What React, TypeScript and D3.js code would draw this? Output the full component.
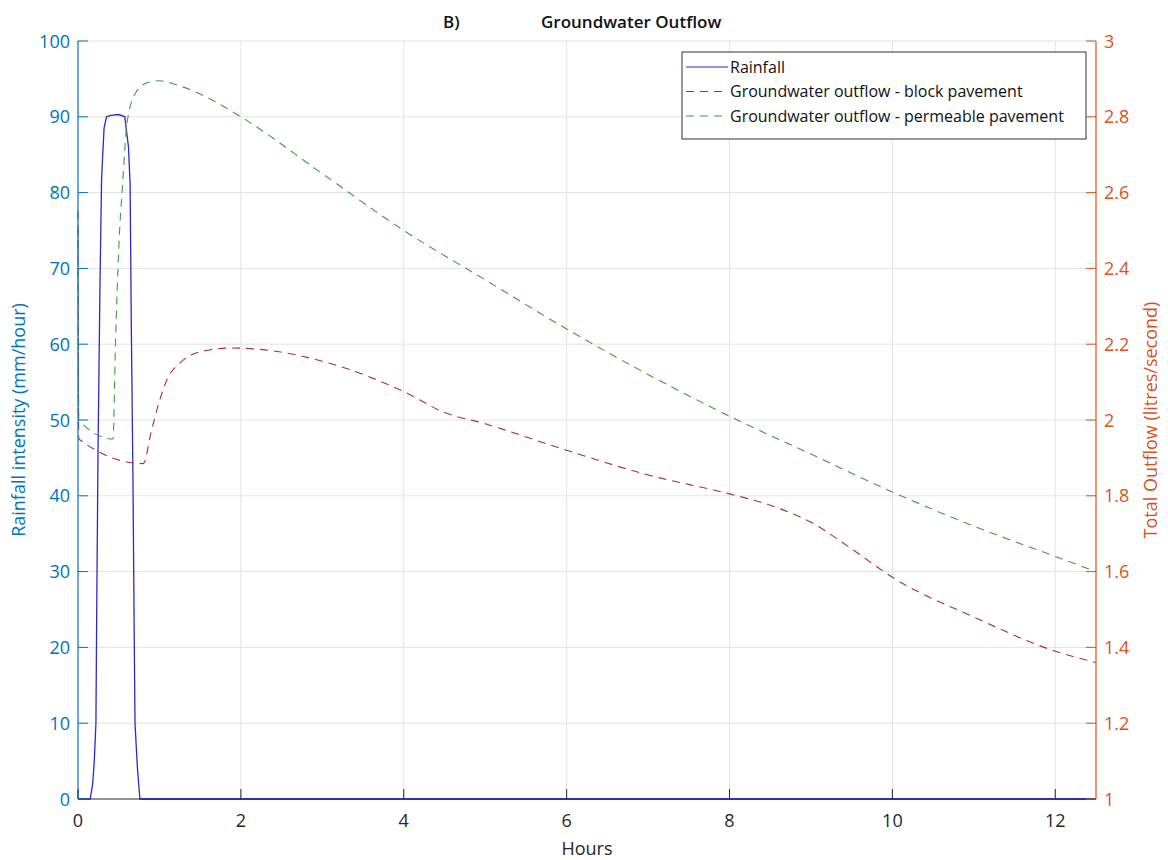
import React, { useEffect, useRef } from 'react';
import * as d3 from 'd3';

// rainfall hyetograph (hours, mm/hour)
const rainHours = [0, 0.15, 0.18, 0.2, 0.22, 0.23, 0.245, 0.27, 0.29, 0.32, 0.35, 0.4, 0.5, 0.575, 0.62, 0.64, 0.655, 0.675, 0.69, 0.7, 0.73, 0.76, 12.5];
const rainValues = [0, 0, 2, 5, 10, 25, 45, 68, 82, 88.5, 90, 90.2, 90.3, 90, 86, 81, 62, 42, 22, 10, 4, 0, 0];

// groundwater outflow - block pavement (hours, litres/second)
const blockHours = [0, 0.01, 0.8, 0.9, 1.0, 1.1, 1.25, 1.5, 1.9, 2.3, 3, 4, 4.5, 5, 6, 7, 8, 8.5, 9, 9.5, 10, 11, 12, 12.5];
const blockValues = [2.55, 1.95, 1.885, 1.97, 2.05, 2.11, 2.15, 2.18, 2.19, 2.185, 2.155, 2.075, 2.02, 1.99, 1.92, 1.855, 1.805, 1.775, 1.73, 1.66, 1.585, 1.48, 1.39, 1.36];

// groundwater outflow - permeable pavement (hours, litres/second)
const permHours = [0, 0.01, 0.43, 0.46, 0.5, 0.55, 0.6, 0.7, 0.85, 1.0, 1.2, 1.5, 2, 3, 4, 5, 6, 7, 8, 9, 10, 11, 12, 12.5];
const permValues = [2.5, 2.0, 1.95, 2.2, 2.45, 2.63, 2.78, 2.86, 2.89, 2.895, 2.885, 2.86, 2.8, 2.65, 2.5, 2.37, 2.24, 2.12, 2.01, 1.91, 1.81, 1.72, 1.64, 1.6];

const xTicks = [0, 2, 4, 6, 8, 10, 12];
const leftTicks = [0, 10, 20, 30, 40, 50, 60, 70, 80, 90, 100];
const rightTicks = [1, 1.2, 1.4, 1.6, 1.8, 2, 2.2, 2.4, 2.6, 2.8, 3];

const legendLabels = ['Rainfall', 'Groundwater outflow - block pavement', 'Groundwater outflow - permeable pavement'];

const W = 1168;
const H = 860;
const FONT = '"Open Sans", "Noto Sans", sans-serif';

export default function App() {
  const ref = useRef<SVGSVGElement>(null);

  useEffect(() => {
    const svg = d3.select(ref.current);
    svg.selectAll('*').remove();

    const left = 78, right = 1096, top = 41, bottom = 799;
    const blue = '#0072bd';
    const orange = '#d95319';
    const rainColor = '#2b2bc8';
    const redColor = '#a8322d';
    const greenColor = '#3c9e3c';

    const x = d3.scaleLinear().domain([0, 12.5]).range([left, right]);
    const yL = d3.scaleLinear().domain([0, 100]).range([bottom, top]);
    const yR = d3.scaleLinear().domain([1, 3]).range([bottom, top]);

    // grid
    const grid = svg.append('g').attr('stroke', '#e3e3e3').attr('stroke-width', 1);
    xTicks.forEach(t => {
      if (t === 0) return;
      grid.append('line').attr('x1', x(t)).attr('x2', x(t)).attr('y1', top).attr('y2', bottom);
    });
    leftTicks.forEach(t => {
      if (t === 0) return;
      grid.append('line').attr('x1', left).attr('x2', right).attr('y1', yL(t)).attr('y2', yL(t));
    });

    // lines
    const lineL = d3.line<number>().x((d, i) => x(rainHours[i])).y(d => yL(d));
    svg.append('path').datum(rainValues).attr('d', lineL)
      .attr('fill', 'none').attr('stroke', rainColor).attr('stroke-width', 1.3);

    const lineBlock = d3.line<number>().x((d, i) => x(blockHours[i])).y(d => yR(d)).curve(d3.curveMonotoneX);
    svg.append('path').datum(blockValues).attr('d', lineBlock)
      .attr('fill', 'none').attr('stroke', redColor).attr('stroke-width', 1.1)
      .attr('stroke-dasharray', '8,6');

    const linePerm = d3.line<number>().x((d, i) => x(permHours[i])).y(d => yR(d)).curve(d3.curveMonotoneX);
    svg.append('path').datum(permValues).attr('d', linePerm)
      .attr('fill', 'none').attr('stroke', greenColor).attr('stroke-width', 1.1)
      .attr('stroke-dasharray', '8,6');

    // axes lines
    svg.append('line').attr('x1', left).attr('x2', right).attr('y1', bottom).attr('y2', bottom)
      .attr('stroke', '#262626').attr('stroke-width', 1);
    // rainfall line overlays bottom axis after the storm
    svg.append('line').attr('x1', x(0.76)).attr('x2', right).attr('y1', bottom).attr('y2', bottom)
      .attr('stroke', rainColor).attr('stroke-width', 1.3);
    svg.append('line').attr('x1', left).attr('x2', left).attr('y1', top).attr('y2', bottom)
      .attr('stroke', blue).attr('stroke-width', 1.2);
    svg.append('line').attr('x1', right).attr('x2', right).attr('y1', top).attr('y2', bottom)
      .attr('stroke', orange).attr('stroke-width', 1.2);

    // x ticks
    xTicks.forEach(t => {
      svg.append('line').attr('x1', x(t)).attr('x2', x(t)).attr('y1', bottom).attr('y2', bottom - 10)
        .attr('stroke', '#262626');
      svg.append('text').attr('x', x(t)).attr('y', bottom + 28).attr('text-anchor', 'middle')
        .attr('font-family', FONT).attr('font-size', 18).attr('font-weight', 500).attr('fill', '#262626').text(t);
    });
    svg.append('text').attr('x', (left + right) / 2).attr('y', 855).attr('text-anchor', 'middle')
      .attr('font-family', FONT).attr('font-size', 18).attr('font-weight', 500).attr('fill', '#262626').text('Hours');

    // left ticks
    leftTicks.forEach(t => {
      svg.append('line').attr('x1', left).attr('x2', left + 10).attr('y1', yL(t)).attr('y2', yL(t))
        .attr('stroke', blue);
      svg.append('text').attr('x', left - 8).attr('y', yL(t) + 6.5).attr('text-anchor', 'end')
        .attr('font-family', FONT).attr('font-size', 18).attr('font-weight', 500).attr('fill', blue).text(t);
    });
    svg.append('text').attr('transform', `translate(25,${(top + bottom) / 2}) rotate(-90)`)
      .attr('text-anchor', 'middle').attr('font-family', FONT).attr('font-size', 18).attr('font-weight', 500).attr('fill', blue)
      .text('Rainfall intensity (mm/hour)');

    // right ticks
    rightTicks.forEach(t => {
      svg.append('line').attr('x1', right).attr('x2', right - 10).attr('y1', yR(t)).attr('y2', yR(t))
        .attr('stroke', orange);
      svg.append('text').attr('x', right + 8).attr('y', yR(t) + 6.5).attr('text-anchor', 'start')
        .attr('font-family', FONT).attr('font-size', 18).attr('font-weight', 500).attr('fill', orange).text(d3.format('~g')(t));
    });
    svg.append('text').attr('transform', `translate(1157,${(top + bottom) / 2}) rotate(-90)`)
      .attr('text-anchor', 'middle').attr('font-family', FONT).attr('font-size', 18).attr('font-weight', 500).attr('fill', orange)
      .text('Total Outflow (litres/second)');

    // title
    svg.append('text').attr('x', 443).attr('y', 28).attr('font-family', FONT).attr('font-size', 17)
      .attr('font-weight', 600).attr('fill', '#111').text('B)');
    svg.append('text').attr('x', 541).attr('y', 28).attr('font-family', FONT).attr('font-size', 17)
      .attr('font-weight', 600).attr('fill', '#111').text('Groundwater Outflow');

    // legend
    const lg = svg.append('g');
    lg.append('rect').attr('x', 682).attr('y', 52).attr('width', 404).attr('height', 87)
      .attr('fill', '#fff').attr('stroke', '#333').attr('stroke-width', 1);
    const colors = [rainColor, redColor, greenColor];
    legendLabels.forEach((lab, i) => {
      const yy = 67 + i * 24.5;
      lg.append('line').attr('x1', 686).attr('x2', 728).attr('y1', yy).attr('y2', yy)
        .attr('stroke', colors[i]).attr('stroke-width', 1.1)
        .attr('stroke-dasharray', i === 0 ? null : '8,6');
      lg.append('text').attr('x', 730).attr('y', yy + 5.5).attr('font-family', FONT).attr('font-size', 16)
        .attr('font-weight', 500).attr('fill', '#111').text(lab);
    });
  }, []);

  return (
    <svg ref={ref} width={W} height={H} style={{ position: 'absolute', left: 0, top: 0, background: '#fff' }} />
  );
}
